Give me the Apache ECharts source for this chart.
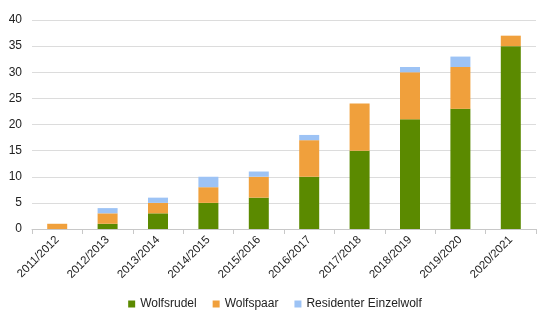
<!DOCTYPE html>
<html>
<head>
<meta charset="utf-8">
<script src="https://cdn.jsdelivr.net/npm/echarts@6/dist/echarts.min.js"></script>
<style>
  html, body { margin: 0; padding: 0; background: #fff; }
  #chart { width: 550px; height: 325px; }
</style>
</head>
<body>
<div id="chart"></div>
<script>
// Wolf territories per monitoring year
const seasons = ['2011/2012', '2012/2013', '2013/2014', '2014/2015', '2015/2016',
                 '2016/2017', '2017/2018', '2018/2019', '2019/2020', '2020/2021'];
const rudel   = [0, 1, 3, 5, 6, 10, 15, 21, 23, 35];
const paar    = [1, 2, 2, 3, 4, 7, 9, 9, 8, 2];
const einzel  = [0, 1, 1, 2, 1, 1, 0, 1, 2, 0];
const yTicks  = [0, 5, 10, 15, 20, 25, 30, 35, 40];

const font = 'Liberation Sans, Arial, sans-serif';
const chart = echarts.init(document.getElementById('chart'));

chart.setOption({
  animation: false,
  textStyle: { fontFamily: font },
  grid: { left: 32, right: 14, top: 20, bottom: 96, containLabel: false },
  legend: {
    top: 293,
    left: 'center',
    itemWidth: 7,
    itemHeight: 7,
    itemGap: 16,
    icon: 'rect',
    textStyle: { fontSize: 12, color: '#222', fontFamily: font },
    data: ['Wolfsrudel', 'Wolfspaar', 'Residenter Einzelwolf']
  },
  xAxis: {
    type: 'category',
    data: seasons,
    axisLine: { lineStyle: { color: '#c8c8c8' } },
    axisTick: { show: true, alignWithLabel: false, lineStyle: { color: '#c8c8c8' } },
    axisLabel: { rotate: 45, fontSize: 11.5, color: '#222', margin: 9, interval: 0 }
  },
  yAxis: {
    type: 'value',
    min: yTicks[0],
    max: yTicks[yTicks.length - 1],
    interval: 5,
    axisLine: { show: false },
    axisTick: { show: false },
    axisLabel: { fontSize: 12, color: '#222', margin: 10 },
    splitLine: { lineStyle: { color: '#dcdcdc' } }
  },
  series: [
    { name: 'Wolfsrudel', type: 'bar', stack: 'w', data: rudel, barWidth: 20,
      itemStyle: { color: '#5b8a00' } },
    { name: 'Wolfspaar', type: 'bar', stack: 'w', data: paar, barWidth: 20,
      itemStyle: { color: '#f0a03c' } },
    { name: 'Residenter Einzelwolf', type: 'bar', stack: 'w', data: einzel, barWidth: 20,
      itemStyle: { color: '#9dc3f5' } }
  ]
});
</script>
</body>
</html>
